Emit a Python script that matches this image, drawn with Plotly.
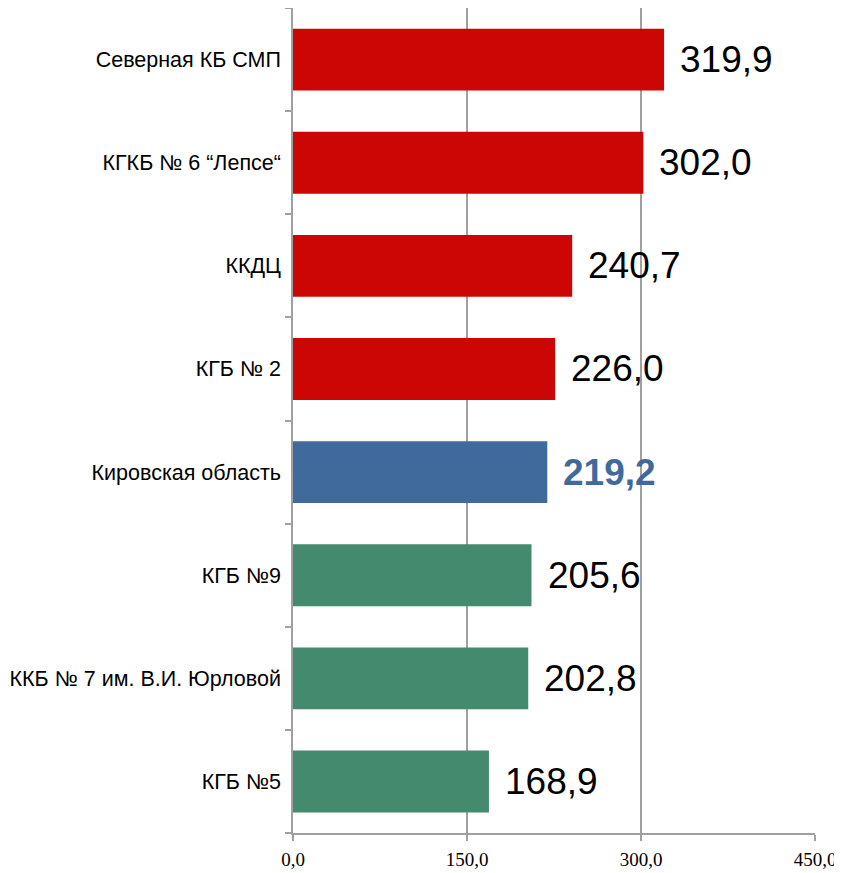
import plotly.graph_objects as go

categories = ["Северная КБ СМП", "КГКБ № 6 “Лепсе“", "ККДЦ", "КГБ № 2",
              "Кировская область", "КГБ №9", "ККБ № 7 им. В.И. Юрловой", "КГБ №5"]
values = [319.9, 302.0, 240.7, 226.0, 219.2, 205.6, 202.8, 168.9]
bar_colors = ["#CC0605", "#CC0605", "#CC0605", "#CC0605",
              "#3F6A9B", "#438A6F", "#438A6F", "#438A6F"]
x_tickvals = [0, 150, 300, 450]
x_ticktext = ["0,0", "150,0", "300,0", "450,0"]

labels = [f"{v:.1f}".replace(".", ",") for v in values]

fig = go.Figure()
fig.add_trace(go.Bar(
    x=values, y=categories, orientation="h",
    marker=dict(color=bar_colors, line=dict(width=0)),
    hoverinfo="skip",
))

for cat, v, lab, col in zip(categories, values, labels, bar_colors):
    highlight = col == "#3F6A9B"
    fig.add_annotation(
        x=v, y=cat, text=f"<b>{lab}</b>" if highlight else lab,
        xanchor="left", yanchor="middle", xshift=14, showarrow=False,
        font=dict(family="Liberation Sans, Arial", size=37,
                  color="#3F6A9B" if highlight else "#000000"),
    )

fig.update_layout(
    width=834, height=865,
    margin=dict(l=285, r=27, t=0, b=40),
    paper_bgcolor="white", plot_bgcolor="white",
    bargap=0.4, showlegend=False,
    xaxis=dict(range=[0, 450], tickvals=x_tickvals, ticktext=x_ticktext,
               automargin=False,
               showgrid=True, gridcolor="#A0A0A0", gridwidth=1.5,
               showline=True, linecolor="#A0A0A0", linewidth=1.5,
               ticks="outside", ticklen=6, tickcolor="#A0A0A0", tickwidth=1.5,
               zeroline=False, ticklabelstandoff=2,
               tickfont=dict(family="Liberation Serif, Times New Roman", size=19, color="#000")),
    yaxis=dict(categoryorder="array", categoryarray=categories[::-1],
               automargin=False,
               showline=True, linecolor="#A0A0A0", linewidth=1.5,
               ticks="outside", ticklen=6, tickcolor="#A0A0A0", tickwidth=1.5,
               tickson="boundaries", showgrid=False, ticklabelstandoff=6,
               tickfont=dict(family="Liberation Sans, Arial", size=21.5, color="#000")),
)

fig.write_html("out.html")
